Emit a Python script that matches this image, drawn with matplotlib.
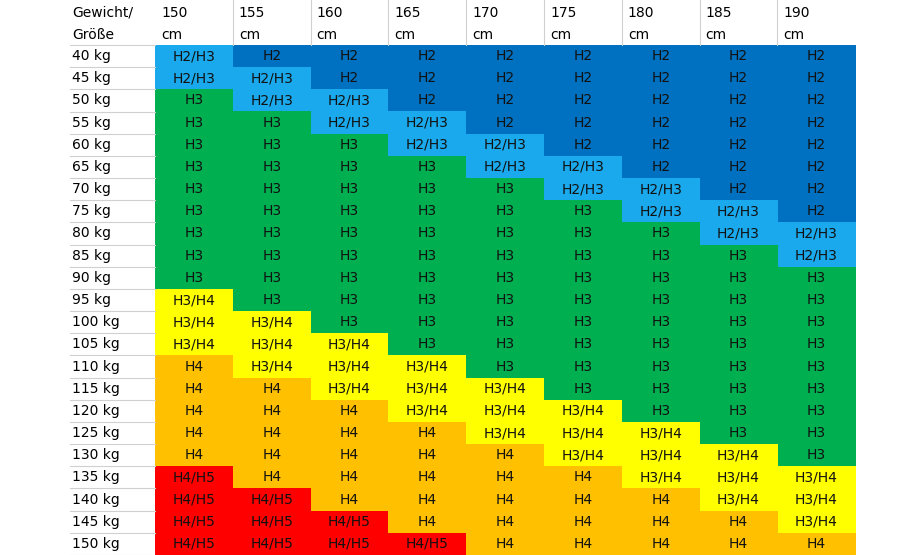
import matplotlib
matplotlib.use("Agg")
import matplotlib.pyplot as plt
import numpy as np
from matplotlib.colors import ListedColormap

heights = [150, 155, 160, 165, 170, 175, 180, 185, 190]
weights = list(range(40, 155, 5))
rows = [
    "H2/H3 H2 H2 H2 H2 H2 H2 H2 H2",
    "H2/H3 H2/H3 H2 H2 H2 H2 H2 H2 H2",
    "H3 H2/H3 H2/H3 H2 H2 H2 H2 H2 H2",
    "H3 H3 H2/H3 H2/H3 H2 H2 H2 H2 H2",
    "H3 H3 H3 H2/H3 H2/H3 H2 H2 H2 H2",
    "H3 H3 H3 H3 H2/H3 H2/H3 H2 H2 H2",
    "H3 H3 H3 H3 H3 H2/H3 H2/H3 H2 H2",
    "H3 H3 H3 H3 H3 H3 H2/H3 H2/H3 H2",
    "H3 H3 H3 H3 H3 H3 H3 H2/H3 H2/H3",
    "H3 H3 H3 H3 H3 H3 H3 H3 H2/H3",
    "H3 H3 H3 H3 H3 H3 H3 H3 H3",
    "H3/H4 H3 H3 H3 H3 H3 H3 H3 H3",
    "H3/H4 H3/H4 H3 H3 H3 H3 H3 H3 H3",
    "H3/H4 H3/H4 H3/H4 H3 H3 H3 H3 H3 H3",
    "H4 H3/H4 H3/H4 H3/H4 H3 H3 H3 H3 H3",
    "H4 H4 H3/H4 H3/H4 H3/H4 H3 H3 H3 H3",
    "H4 H4 H4 H3/H4 H3/H4 H3/H4 H3 H3 H3",
    "H4 H4 H4 H4 H3/H4 H3/H4 H3/H4 H3 H3",
    "H4 H4 H4 H4 H4 H3/H4 H3/H4 H3/H4 H3",
    "H4/H5 H4 H4 H4 H4 H4 H3/H4 H3/H4 H3/H4",
    "H4/H5 H4/H5 H4 H4 H4 H4 H4 H3/H4 H3/H4",
    "H4/H5 H4/H5 H4/H5 H4 H4 H4 H4 H4 H3/H4",
    "H4/H5 H4/H5 H4/H5 H4/H5 H4 H4 H4 H4 H4",
]
categories = ["H2", "H2/H3", "H3", "H3/H4", "H4", "H4/H5"]
colors = ["#0070C0", "#1AA9EC", "#00B050", "#FFFF00", "#FFC000", "#FF0000"]

grid = [r.split() for r in rows]
codes = np.array([[categories.index(c) for c in r] for r in grid])

W, H = 910, 555
fig = plt.figure(figsize=(W / 100, H / 100), dpi=100)
ax = fig.add_axes([0, 0, 1, 1])
ax.set_xlim(0, W)
ax.set_ylim(H, 0)
ax.axis("off")

x0, cw = 155, 77.8
y0, rh = 45, (H - 45) / len(weights)
nx, ny = len(heights), len(weights)
ax.imshow(codes, cmap=ListedColormap(colors), vmin=-0.5, vmax=5.5,
          extent=(x0, x0 + nx * cw, y0 + ny * rh, y0), aspect="auto",
          interpolation="nearest")

fs = 10
for i, w in enumerate(weights):
    yc = y0 + (i + 0.5) * rh
    ax.text(72, yc, f"{w} kg", ha="left", va="center", fontsize=fs, color="black")
    ax.plot([70, x0], [y0 + (i + 1) * rh] * 2, color="#d0d0d0", lw=0.8)
    for j in range(nx):
        ax.text(x0 + (j + 0.5) * cw, yc, grid[i][j], ha="center", va="center",
                fontsize=fs, color="#111111")
ax.plot([70, x0], [y0, y0], color="#d0d0d0", lw=0.8)

ax.text(72, 13, "Gewicht/", ha="left", va="center", fontsize=fs)
ax.text(72, 35, "Größe", ha="left", va="center", fontsize=fs)
for j, h in enumerate(heights):
    xl = x0 + j * cw
    ax.text(xl + 6, 13, f"{h}", ha="left", va="center", fontsize=fs)
    ax.text(xl + 6, 35, "cm", ha="left", va="center", fontsize=fs)
    if j > 0:
        ax.plot([xl, xl], [0, y0], color="#d0d0d0", lw=0.8)

fig.savefig("out.png", dpi=100)
